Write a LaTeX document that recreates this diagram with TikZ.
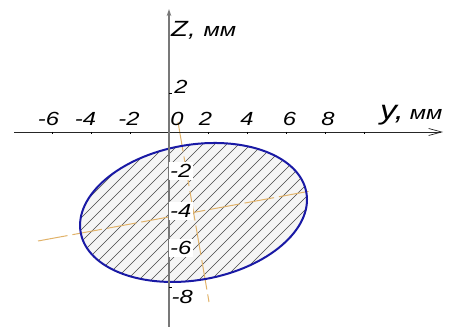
\documentclass[tikz,border=0pt]{standalone}
\usepackage{fontspec}
\setmainfont{Liberation Sans}[FakeStretch=1.25]
\usetikzlibrary{arrows.meta}
\definecolor{ellblue}{RGB}{25,25,165}
\definecolor{axorange}{RGB}{225,178,105}
\definecolor{axgray}{RGB}{120,120,120}
\definecolor{hatchgray}{RGB}{70,70,70}
\begin{document}
\begin{tikzpicture}[x=1pt,y=1pt,
  lbl/.style={font=\fontsize{19}{19}\selectfont\itshape, inner sep=0pt},
  vlbl/.style={lbl, fill=white, inner xsep=1.5pt, inner ysep=2.5pt, anchor=west},
  hatchline/.style={hatchgray, line width=0.5pt},
  oaxis/.style={axorange, line width=1pt, dash pattern=on 30pt off 5pt},
  ellline/.style={ellblue, line width=2pt},
  tickmark/.style={black, line width=0.6pt}]
\useasboundingbox (0,0) rectangle (456,327);
\coordinate (C) at (193.5,114.5);
% filled ellipse
\fill[gray!8, rotate around={10:(C)}] (C) ellipse [x radius=114.6, y radius=67.6];
\begin{scope}
  \clip[rotate around={10:(C)}] (C) ellipse [x radius=114.6, y radius=67.6];
  \foreach \c in {-220,-208,...,420} \draw[hatchline] (\c,0) -- ++(327,327);
\end{scope}
% principal axes
\coordinate (MA1) at (38,86);
\coordinate (MA2) at (312,136.3);
\coordinate (MB1) at (178,205);
\coordinate (MB2) at (209,25);
\draw[oaxis] (MA1) -- (MA2);
\draw[oaxis] (MB1) -- (MB2);
% ellipse outline
\draw[ellline, rotate around={10:(C)}] (C) ellipse [x radius=114.6, y radius=67.6];
% horizontal axis
\coordinate (HA1) at (14,195);
\coordinate (HA2) at (443,195);
\draw[black!85, line width=0.8pt, -{Straight Barb[length=13pt,width=7pt,line width=0.7pt]}] (HA1) -- (HA2);
\foreach \k in {-6,-4,...,10} \draw[tickmark] (169+19.5*\k,195) -- ++(0,-2);
% vertical axis
\coordinate (VA1) at (169,0);
\coordinate (VA2) at (169,318);
\draw[axgray, line width=1.8pt, -{Stealth[length=7pt,width=4.5pt]}] (VA1) -- (VA2);
\foreach \k in {1,-1,-2,-3,-4} \draw[tickmark] (169,195+38.8*\k) -- ++(3,0);
% horizontal tick labels
\node[lbl] (hm6) at (48.5,208.5) {-6};
\node[lbl] (hm4) at (85.5,208.5) {-4};
\node[lbl] (hm2) at (129,208.5) {-2};
\node[lbl] (h0) at (177,208.5) {0};
\node[lbl] (h2) at (205.5,208.5) {2};
\node[lbl] (h4) at (247,208.5) {4};
\node[lbl] (h6) at (289.5,208.5) {6};
\node[lbl] (h8) at (328,208.5) {8};
% vertical tick labels
\node[lbl] (v2) at (181,240) {2};
\node[vlbl] (vm2) at (168.5,156) {-2};
\node[vlbl] (vm4) at (168.5,116) {-4};
\node[vlbl] (vm6) at (168.5,79) {-6};
\node[vlbl] (vm8) at (170,30) {-8};
% axis titles
\node[anchor=base west, inner sep=0pt] (zt) at (171,290)
  {\itshape{\fontsize{22}{22}\selectfont Z,}\hspace{8pt}{\fontsize{19}{19}\selectfont мм}};
\node[anchor=base west, inner sep=0pt] (yt) at (380,207)
  {\itshape{\fontsize{27}{27}\selectfont y,}\hspace{6pt}{\fontsize{19}{19}\selectfont мм}};
\end{tikzpicture}
\end{document}
